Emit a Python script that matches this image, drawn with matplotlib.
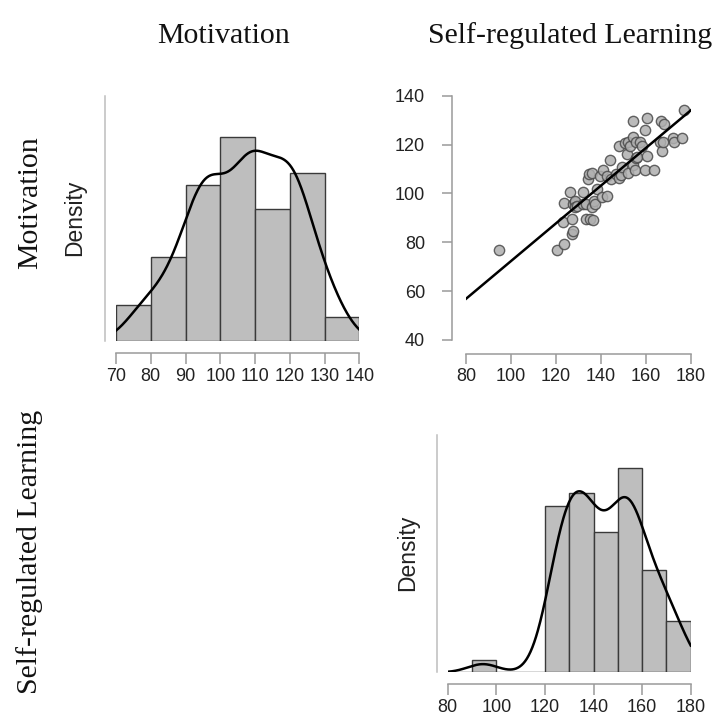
import numpy as np
import matplotlib
matplotlib.use("Agg")
import matplotlib.pyplot as plt

# Paired scores per respondent: self-regulated learning (SRL) and motivation
srl = [94.5,
       120.5, 123, 123.5, 123.5, 126, 127, 127, 127.5, 127.5, 128.5, 128.5, 128.5, 129.5,
       132, 132, 133.5, 133.5, 134, 134.5, 135, 136, 136, 136.5, 137, 137.5, 138, 139.5,
       140.5, 141, 142.5, 142.5, 144, 144.5, 146.5, 148, 148, 149, 149.5,
       150.5, 151.5, 152, 152, 153, 154, 154, 154, 155, 155.5, 155.5, 156, 157.5, 158,
       159.5, 159.5,
       160.5, 160.5, 163.5, 166, 166.5, 167, 167.5, 168,
       172, 172.5, 176, 177]
motivation = [77,
              77, 88.5, 79.5, 96, 100.5, 89.5, 83.5, 84.5, 95.5, 96.5, 97, 94.5, 95,
              95.5, 100.5, 95.5, 89.5, 106, 108, 89.5, 108.5, 94.5, 89, 97, 95.5, 102, 107,
              98.5, 109.5, 107, 99, 113.5, 106, 108, 106.5, 119.5, 107.5, 111,
              120.5, 116, 121, 108.5, 119.5, 111.5, 123, 129.5, 109.5, 121, 114.5, 115, 121,
              119.5, 126, 109.5,
              131, 115.5, 109.5, 121, 129.5, 117.5, 121, 128.5,
              122.5, 121, 122.5, 134]

mot_bins = [70, 80, 90, 100, 110, 120, 130, 140]
srl_bins = [80, 90, 100, 110, 120, 130, 140, 150, 160, 170, 180]
mot_hist_ticks = [70, 80, 90, 100, 110, 120, 130, 140]
srl_hist_ticks = [80, 100, 120, 140, 160, 180]
scatter_xticks = [80, 100, 120, 140, 160, 180]
scatter_yticks = [40, 60, 80, 100, 120, 140]

var_names = ["Motivation", "Self-regulated Learning"]

W, H, DPI = 713, 721, 100
PT = 72.0 / DPI  # points per pixel

AXIS_GREY = "#9a9a9a"
SANS = ["Liberation Sans", "DejaVu Sans"]
SERIF = ["Liberation Serif", "DejaVu Serif"]
TICK_SIZE = 13

fig = plt.figure(figsize=(W / DPI, H / DPI), dpi=DPI)
fig.patch.set_facecolor("white")


def add_axes_px(left, top, right, bottom):
    return fig.add_axes([left / W, 1 - bottom / H, (right - left) / W, (bottom - top) / H])


def style_axis(ax, left_out, bottom_out, tick_len, ypad=4, yticks=True):
    for side in ("top", "right"):
        ax.spines[side].set_visible(False)
    ax.spines["left"].set_position(("outward", left_out * PT))
    ax.spines["bottom"].set_position(("outward", bottom_out * PT))
    for side in ("left", "bottom"):
        ax.spines[side].set_color(AXIS_GREY)
        ax.spines[side].set_linewidth(1.1)
    ax.tick_params(axis="both", direction="out", length=tick_len * PT, width=1.1,
                   color=AXIS_GREY, labelcolor="#222222", pad=3)
    ax.tick_params(axis="y", pad=ypad)
    for lab in ax.get_xticklabels() + ax.get_yticklabels():
        lab.set_fontfamily(SANS)
        lab.set_fontsize(TICK_SIZE)
    if not yticks:
        ax.set_yticks([])


def kde_nrd0(values, grid):
    v = np.asarray(values, dtype=float)
    n = v.size
    sd = v.std(ddof=1)
    q75, q25 = np.percentile(v, [75, 25])
    bw = 0.9 * min(sd, (q75 - q25) / 1.34) * n ** (-0.2)
    z = (grid[:, None] - v[None, :]) / bw
    return np.exp(-0.5 * z ** 2).sum(axis=1) / (n * bw * np.sqrt(2 * np.pi))


def density_panel(ax, values, bins, ticks, ytop):
    ax.hist(values, bins=bins, density=True, color="#bebebe",
            edgecolor="#3a3a3a", linewidth=1.0)
    grid = np.linspace(bins[0], bins[-1], 400)
    ax.plot(grid, kde_nrd0(values, grid), color="black", lw=1.8)
    ax.set_xlim(bins[0], bins[-1])
    ax.set_ylim(0, ytop)
    ax.set_xticks(ticks)
    style_axis(ax, 11, 12, 11, yticks=False)
    ax.spines["left"].set_bounds(0, ytop)
    ax.spines["left"].set_color("#bdbdbd")
    ax.spines["bottom"].set_bounds(bins[0], bins[-1])


# Motivation: histogram with density curve
ax1 = add_axes_px(116, 96, 359.3, 341)
density_panel(ax1, motivation, mot_bins, mot_hist_ticks, 0.0304)
fig.text(81 / W, 1 - 218 / H, "Density", rotation=90, rotation_mode="anchor",
         ha="center", va="baseline", family=SANS, fontsize=16.5, color="#222222")

# Motivation vs self-regulated learning: scatter with regression line
ax2 = add_axes_px(466, 95.7, 691, 340)
ax2.scatter(srl, motivation, s=55, facecolor="#b0b0b0", edgecolor="#4a4a4a",
            linewidths=1.0, alpha=0.85, zorder=3)
slope, intercept = np.polyfit(srl, motivation, 1)
xl = np.array([scatter_xticks[0], scatter_xticks[-1]], dtype=float)
ax2.plot(xl, intercept + slope * xl, color="black", lw=1.8, zorder=4)
ax2.set_xlim(scatter_xticks[0], scatter_xticks[-1])
ax2.set_ylim(scatter_yticks[0], scatter_yticks[-1])
ax2.set_xticks(scatter_xticks)
ax2.set_yticks(scatter_yticks)
style_axis(ax2, 14.3, 14, 10, ypad=12)
ax2.spines["left"].set_bounds(scatter_yticks[0], scatter_yticks[-1])
ax2.spines["bottom"].set_bounds(scatter_xticks[0], scatter_xticks[-1])

# Self-regulated learning: histogram with density curve
ax3 = add_axes_px(447.7, 435, 690.7, 672.3)
density_panel(ax3, srl, srl_bins, srl_hist_ticks, 0.0277)
fig.text(414 / W, 1 - 553 / H, "Density", rotation=90, rotation_mode="anchor",
         ha="center", va="baseline", family=SANS, fontsize=16.5, color="#222222")

# Column and row headers
fig.text(224 / W, 1 - 43 / H, var_names[0], ha="center", va="baseline",
         family=SERIF, fontsize=21.5, color="#111111")
fig.text(570 / W, 1 - 43 / H, var_names[1], ha="center", va="baseline",
         family=SERIF, fontsize=21.5, color="#111111")
fig.text(37 / W, 1 - 203 / H, var_names[0], rotation=90, rotation_mode="anchor",
         ha="center", va="baseline", family=SERIF, fontsize=21.5, color="#111111")
fig.text(37 / W, 1 - 552 / H, var_names[1], rotation=90, rotation_mode="anchor",
         ha="center", va="baseline", family=SERIF, fontsize=21.5, color="#111111")

fig.savefig("out.png", dpi=DPI, facecolor="white")
